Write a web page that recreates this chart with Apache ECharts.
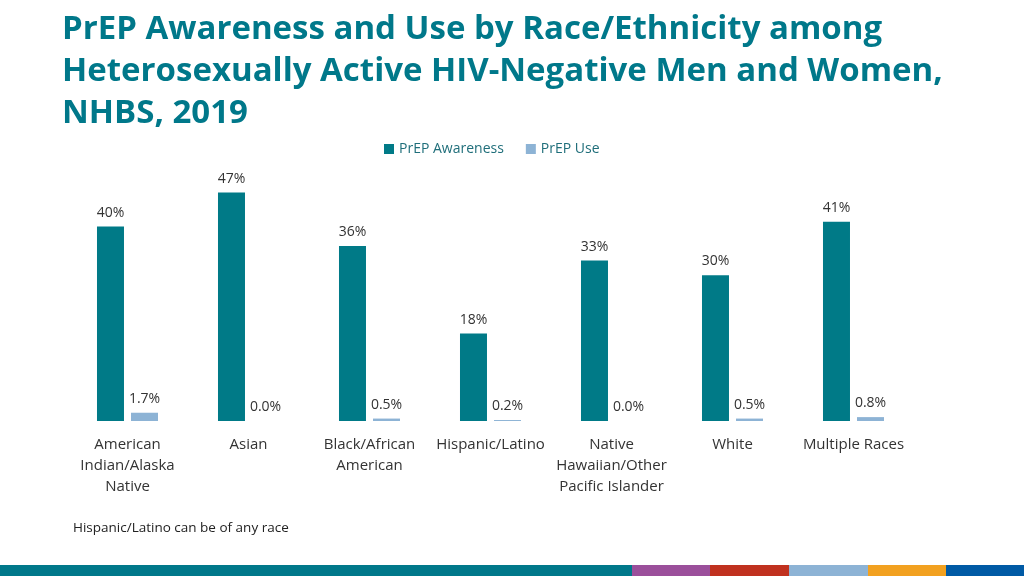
<!DOCTYPE html>
<html><head><meta charset="utf-8">
<script src="https://cdn.jsdelivr.net/npm/echarts@6/dist/echarts.min.js"></script>
<style>html,body{margin:0;padding:0;background:#fff}#c{width:1024px;height:576px}</style>
</head><body><div id="c"></div>
<script>
const categories = ['American\nIndian/Alaska\nNative','Asian','Black/African\nAmerican','Hispanic/Latino','Native\nHawaiian/Other\nPacific Islander','White','Multiple Races'];
const awareness = [40, 47, 36, 18, 33, 30, 41];
const prepUse = [1.7, 0.0, 0.5, 0.2, 0.0, 0.5, 0.8];
const seriesNames = ['PrEP Awareness', 'PrEP Use'];
const teal = '#007A87', light = '#8DB3D5', txt = '#333333';
const chart = echarts.init(document.getElementById('c'));
const stripe = [[0,632,'#00788A'],[632,710,'#9B4F9B'],[710,789,'#C0311F'],[789,868,'#8DB3D5'],[868,946,'#F2A120'],[946,1024,'#005AA5']];
chart.setOption({
  animation:false,
  title:{text:'PrEP Awareness and Use by Race/Ethnicity among\nHeterosexually Active HIV-Negative Men and Women,\nNHBS, 2019',
    left:62, top:9, padding:0, textStyle:{fontFamily:'Open Sans', fontWeight:'bold', fontSize:33, lineHeight:42, color:'#00788A'}},
  legend:{data:seriesNames, top:137, left:379, itemWidth:10, itemHeight:10, itemGap:22,
    textStyle:{fontFamily:'Open Sans', fontSize:14, color:'#1F6E7A'}, icon:'rect'},
  grid:{left:67, right:110, top:178, bottom:155},
  xAxis:{type:'category', data:categories, axisLine:{show:false}, axisTick:{show:false},
    axisLabel:{interval:0, margin:13, fontFamily:'Open Sans', fontSize:15, lineHeight:21, color:txt}},
  yAxis:{type:'value', min:0, max:50, show:false, splitLine:{show:false}},
  series:[
    {name:seriesNames[0], type:'bar', data:awareness, barWidth:27, barGap:'26%', itemStyle:{color:teal},
     label:{show:true, position:'top', distance:7, fontFamily:'Open Sans', fontSize:14, color:txt, formatter:p=>p.value.toFixed(0)+'%'}},
    {name:seriesNames[1], type:'bar', data:prepUse, barWidth:27, itemStyle:{color:light},
     label:{show:true, position:'top', distance:7, fontFamily:'Open Sans', fontSize:14, color:txt, formatter:p=>p.value.toFixed(1)+'%'}}
  ],
  graphic:[
    {type:'text', left:73, top:521, style:{text:'Hispanic/Latino can be of any race', fontFamily:'Open Sans', fontSize:13.5, fill:'#222'}}
  ].concat(stripe.map(s=>({type:'rect', shape:{x:s[0], y:565, width:s[1]-s[0], height:11}, style:{fill:s[2]}})))
});
</script></body></html>
